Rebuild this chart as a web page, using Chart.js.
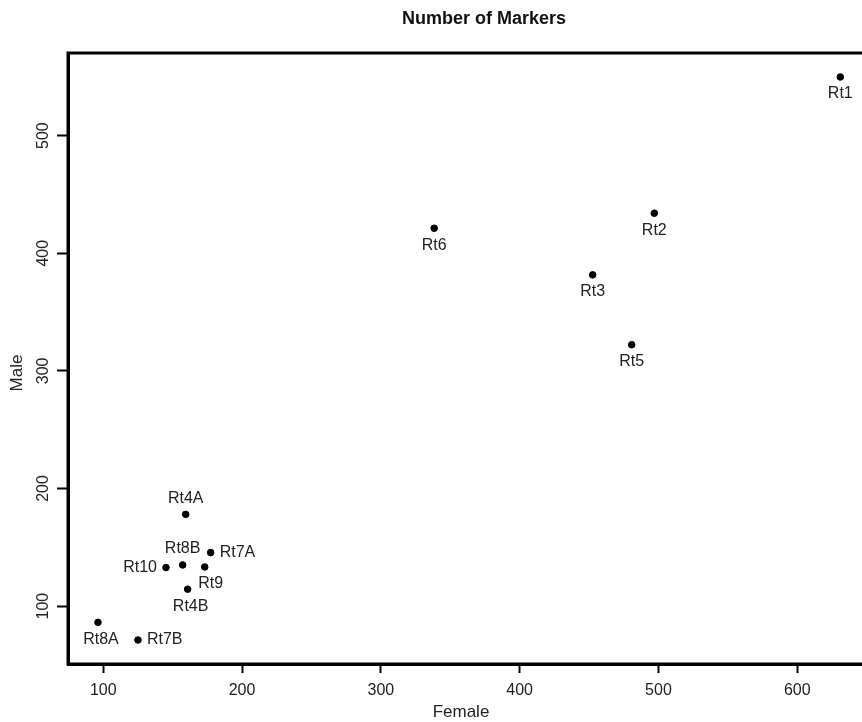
<!DOCTYPE html>
<html>
<head>
<meta charset="utf-8">
<script src="https://cdn.jsdelivr.net/npm/chart.js@4.4.1/dist/chart.umd.min.js"></script>
<style>
  html, body { margin: 0; padding: 0; background: #fff; overflow: hidden; }
  #wrap { width: 862px; height: 722px; overflow: hidden; }
</style>
</head>
<body>
<div id="wrap"><canvas id="scatter" width="900" height="722"></canvas></div>
<script>
// sample names and marker counts
const names = ['Rt1', 'Rt2', 'Rt3', 'Rt5', 'Rt6', 'Rt4A', 'Rt8B', 'Rt7A', 'Rt10', 'Rt9', 'Rt4B', 'Rt8A', 'Rt7B'];
const female = [631, 497, 452.6, 480.7, 338.4, 159.4, 157.2, 177.4, 145.2, 173.1, 160.8, 96.2, 125.0];
const male = [549.8, 434, 381.6, 322.2, 421.2, 178.0, 135.0, 145.5, 132.8, 133.3, 114.4, 86.2, 71.2];
const xTicks = [100, 200, 300, 400, 500, 600];
const yTicks = [100, 200, 300, 400, 500];

// where each text goes relative to its dot (b = below, t = above, l = left, r = right)
const labelSide = { Rt4A: 't', Rt8B: 't', Rt7A: 'r', Rt7B: 'r', Rt10: 'l' };
const labelShiftX = { Rt9: 6, Rt8A: 3, Rt4B: 3 };

const FONT = '"Liberation Sans", Arial, sans-serif';
const INK = '#222';

const boxAndText = {
    id: 'boxAndText',
    afterDraw(chart) {
        const ctx = chart.ctx;
        const a = chart.chartArea;
        ctx.save();
        // plot frame
        ctx.strokeStyle = '#000';
        ctx.lineWidth = 3;
        ctx.strokeRect(a.left, a.top, a.right - a.left, a.bottom - a.top);

        // point labels
        ctx.fillStyle = INK;
        ctx.font = '16px ' + FONT;
        const meta = chart.getDatasetMeta(0);
        meta.data.forEach((pt, i) => {
            const n = names[i];
            const side = labelSide[n] || 'b';
            let x = pt.x + (labelShiftX[n] || 0), y = pt.y;
            ctx.textBaseline = 'middle';
            if (side === 'b') { ctx.textAlign = 'center'; y += 17; }
            else if (side === 't') { ctx.textAlign = 'center'; y -= 16; }
            else if (side === 'l') { ctx.textAlign = 'right'; x -= 9; }
            else { ctx.textAlign = 'left'; x += 9; }
            ctx.fillText(n, x, y);
        });

        // y tick labels, turned like the original
        const ys = chart.scales.y;
        ctx.textAlign = 'center';
        ctx.textBaseline = 'middle';
        yTicks.forEach(v => {
            ctx.save();
            ctx.translate(44, ys.getPixelForValue(v));
            ctx.rotate(-Math.PI / 2);
            ctx.fillText(String(v), 0, 0);
            ctx.restore();
        });

        // titles
        ctx.font = '17px ' + FONT;
        ctx.fillText('Female', 461, 712);
        ctx.save();
        ctx.translate(17.5, 373);
        ctx.rotate(-Math.PI / 2);
        ctx.fillText('Male', 0, 0);
        ctx.restore();

        ctx.font = 'bold 18px ' + FONT;
        ctx.fillStyle = '#111';
        ctx.fillText('Number of Markers', 484, 19);
        ctx.restore();
    }
};

document.addEventListener('DOMContentLoaded', () => {
    new Chart(document.getElementById('scatter'), {
        type: 'scatter',
        data: {
            datasets: [{
                label: 'Markers',
                data: female.map((f, i) => ({ x: f, y: male[i] })),
                backgroundColor: '#000',
                borderColor: '#000',
                pointRadius: 3.3,
                pointHoverRadius: 3.3
            }]
        },
        options: {
            responsive: false,
            animation: false,
            devicePixelRatio: 1,
            layout: { padding: { top: 53, right: 30, left: 0, bottom: 0 } },
            plugins: {
                legend: { display: false },
                tooltip: { enabled: false }
            },
            scales: {
                x: {
                    type: 'linear',
                    min: 74.6,
                    max: 652.4,
                    afterBuildTicks: s => { s.ticks = xTicks.map(v => ({ value: v })); },
                    afterFit: s => { s.height = 58; },
                    ticks: { color: INK, font: { family: FONT, size: 16 }, padding: 8 },
                    grid: { drawOnChartArea: false, drawTicks: true, tickLength: 9, tickWidth: 2, tickColor: '#000' },
                    border: { display: true, width: 3, color: '#000' }
                },
                y: {
                    type: 'linear',
                    min: 50.8,
                    max: 570.2,
                    afterBuildTicks: s => { s.ticks = yTicks.map(v => ({ value: v })); },
                    afterFit: s => { s.width = 68; },
                    ticks: { display: false },
                    grid: { drawOnChartArea: false, drawTicks: true, tickLength: 11, tickWidth: 2, tickColor: '#000' },
                    border: { display: true, width: 3, color: '#000' }
                }
            }
        },
        plugins: [boxAndText]
    });
});
</script>
</body>
</html>
